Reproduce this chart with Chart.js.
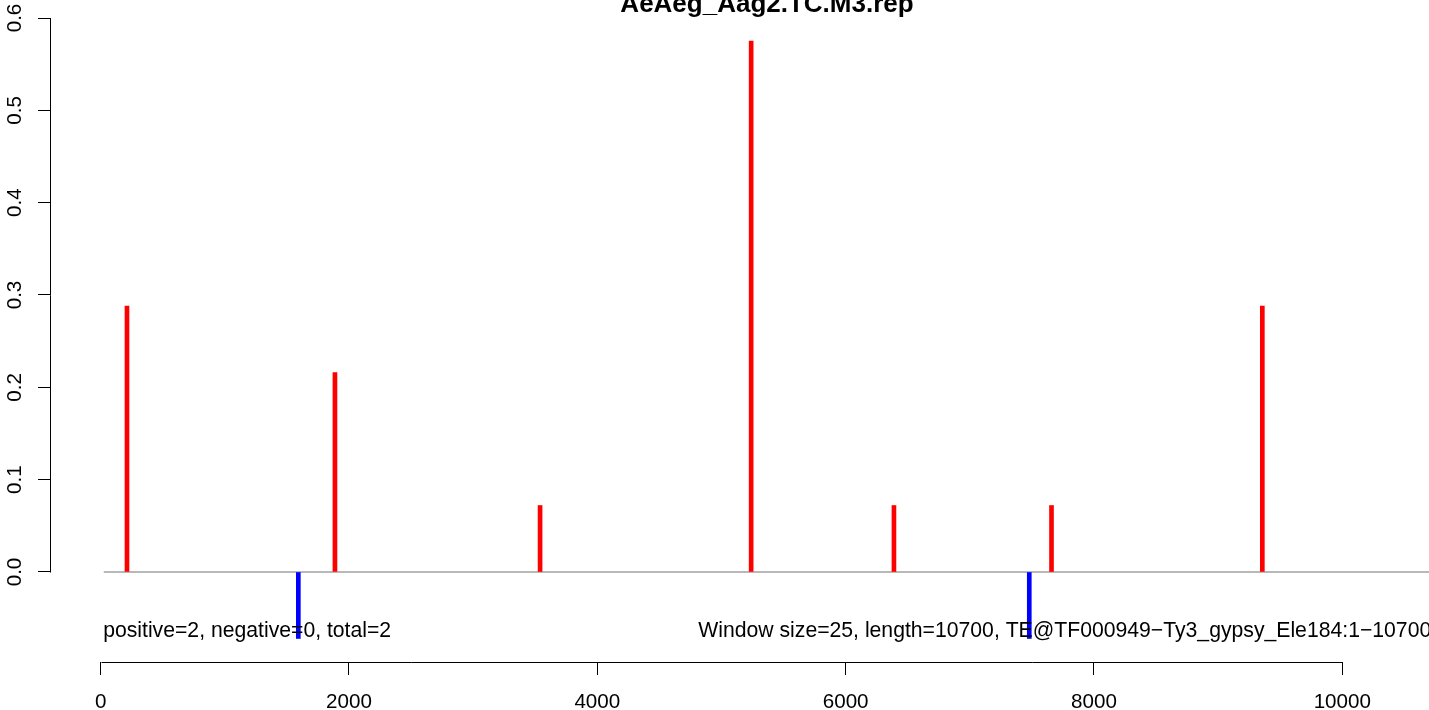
<!DOCTYPE html>
<html>
<head>
<meta charset="utf-8">
<script src="https://cdn.jsdelivr.net/npm/chart.js@4.4.1/dist/chart.umd.min.js"></script>
<style>
  html, body { margin: 0; padding: 0; background: #ffffff; overflow: hidden; width: 1429px; height: 710px; }
  #wrap { position: absolute; left: 0; top: -8px; }
  canvas { display: block; }
</style>
</head>
<body>
<div id="wrap"><canvas id="c" width="1534" height="718"></canvas></div>
<script>
// ---- data ----
const titleText = "AeAeg_Aag2.TC.M3.rep";
const redPositions = [212, 1887, 3539, 5239, 6389, 7658, 9356];
const redValues    = [0.288, 0.216, 0.072, 0.575, 0.072, 0.072, 0.288];
const bluePositions = [1592, 7479];
const blueValues    = [-0.072, -0.072];
const baselineX = [25, 10700];
const baselineY = [0, 0];
const xTicks = [0, 2000, 4000, 6000, 8000, 10000];
const yTicks = [0, 0.1, 0.2, 0.3, 0.4, 0.5, 0.6];
const leftNote = "positive=2, negative=0, total=2";
const rightNote = "Window size=25, length=10700, TE@TF000949\u2212Ty3_gypsy_Ele184:1\u221210700";
const leftNoteX = 20, rightNoteX = 10700, noteY = -0.0704;

const FONT = '"Liberation Sans", Arial, Helvetica, sans-serif';

const redData = redPositions.map((x, i) => ({ x: x, y: redValues[i] }));
const blueData = bluePositions.map((x, i) => ({ x: x, y: blueValues[i] }));
const lineData = baselineX.map((x, i) => ({ x: x, y: baselineY[i] }));

const axisLinesAndNotes = {
  id: 'axisLinesAndNotes',
  afterDraw(chart) {
    const ctx = chart.ctx;
    const xs = chart.scales.x, ys = chart.scales.y;
    const area = chart.chartArea;
    ctx.save();
    ctx.strokeStyle = '#000000';
    ctx.lineWidth = 1;
    // x axis line from first to last tick
    const yAx = Math.round(area.bottom) + 0.5;
    ctx.beginPath();
    ctx.moveTo(Math.round(xs.getPixelForValue(xTicks[0])) + 0.5, yAx);
    ctx.lineTo(Math.round(xs.getPixelForValue(xTicks[xTicks.length - 1])) + 0.5, yAx);
    ctx.stroke();
    // y axis line from first to last tick
    const xAx = Math.round(area.left) - 0.5;
    ctx.beginPath();
    ctx.moveTo(xAx, Math.round(ys.getPixelForValue(yTicks[0])) + 0.5);
    ctx.lineTo(xAx, Math.round(ys.getPixelForValue(yTicks[yTicks.length - 1])) + 0.5);
    ctx.stroke();
    // notes
    ctx.fillStyle = '#000000';
    ctx.font = '21.2px ' + FONT;
    ctx.textBaseline = 'alphabetic';
    ctx.textAlign = 'left';
    ctx.fillText(leftNote, xs.getPixelForValue(leftNoteX), ys.getPixelForValue(noteY));
    ctx.textAlign = 'right';
    ctx.fillText(rightNote, xs.getPixelForValue(rightNoteX) + 2, ys.getPixelForValue(noteY));
    ctx.restore();
  }
};

new Chart(document.getElementById('c'), {
  type: 'bar',
  data: {
    datasets: [
      { type: 'line', data: lineData, borderColor: '#a0a0a0', borderWidth: 1.5,
        pointRadius: 0, fill: false, order: 3 },
      { data: redData, backgroundColor: '#ff0000', borderWidth: 0,
        barThickness: 4, grouped: false, order: 1 },
      { data: blueData, backgroundColor: '#0000ff', borderWidth: 0,
        barThickness: 4, grouped: false, order: 2 }
    ]
  },
  options: {
    responsive: false,
    animation: false,
    devicePixelRatio: 1,
    layout: { padding: { left: 0, right: 0, top: 0, bottom: 0 } },
    plugins: {
      legend: { display: false },
      tooltip: { enabled: false },
      title: {
        display: true, text: titleText, color: '#000000',
        font: { family: FONT, size: 26, weight: 'bold', lineHeight: 1 },
        padding: { top: 0, bottom: 0 }
      }
    },
    scales: {
      x: {
        type: 'linear', offset: false,
        min: -400, max: 11544,
        afterBuildTicks(scale) { scale.ticks = xTicks.map(v => ({ value: v })); },
        afterFit(scale) { scale.height = 48; },
        border: { display: false },
        grid: { display: true, drawOnChartArea: false, drawTicks: true, tickLength: 13,
                color: '#000000', lineWidth: 1, offset: false },
        ticks: { color: '#000000', font: { family: FONT, size: 20.6 }, padding: 15,
                 maxRotation: 0, minRotation: 0, autoSkip: false,
                 callback: (v) => String(v) }
      },
      y: {
        type: 'linear',
        min: -0.09748, max: 0.6,
        afterBuildTicks(scale) { scale.ticks = yTicks.map(v => ({ value: v })); },
        afterFit(scale) { scale.width = 51; },
        border: { display: false },
        grid: { display: true, drawOnChartArea: false, drawTicks: true, tickLength: 13,
                color: '#000000', lineWidth: 1 },
        ticks: { color: '#000000', font: { family: FONT, size: 20.6 }, padding: 8.4,
                 minRotation: 90, maxRotation: 90, crossAlign: 'center', autoSkip: false,
                 callback: (v) => Number(v).toFixed(1) }
      }
    }
  },
  plugins: [axisLinesAndNotes]
});
</script>
</body>
</html>
